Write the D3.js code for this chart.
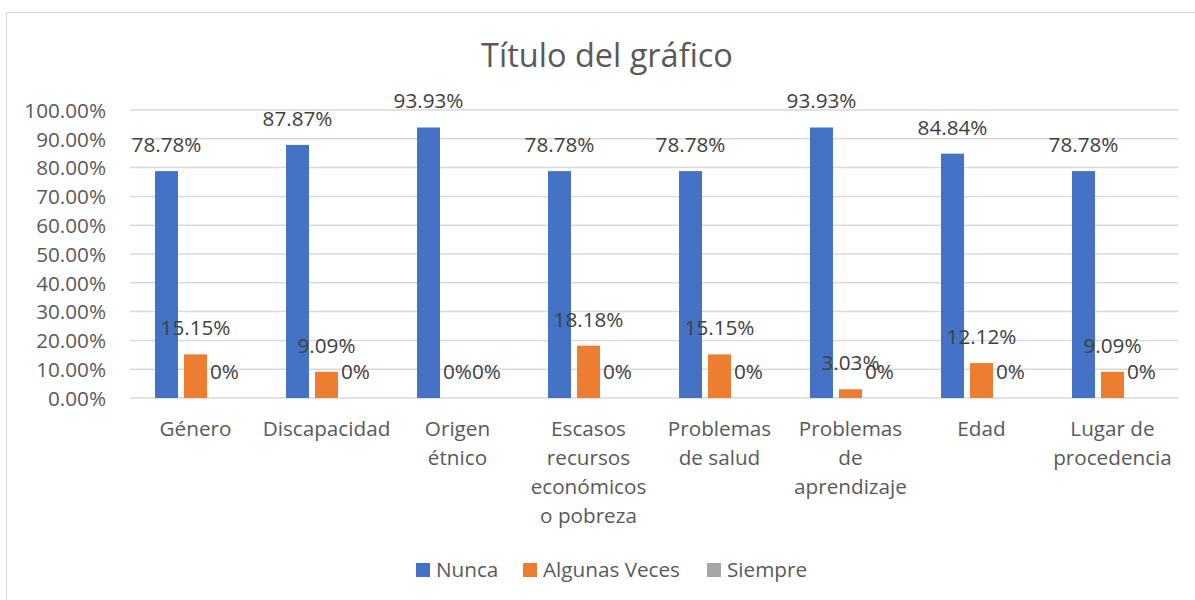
<!DOCTYPE html>
<html>
<head>
  <meta charset="utf-8">
  <title>Título del gráfico</title>
  <script src="https://d3js.org/d3.v7.min.js"></script>
  <style>
    body{margin:0;background:#fff;}
    text{font-family:"Open Sans",sans-serif;}
  </style>
</head>
<body>
  <script>
      var w=1195;
      var h=600;

      var categories=[
        ["Género"],
        ["Discapacidad"],
        ["Origen","étnico"],
        ["Escasos","recursos","económicos","o pobreza"],
        ["Problemas","de salud"],
        ["Problemas","de","aprendizaje"],
        ["Edad"],
        ["Lugar de","procedencia"]
      ];
      var seriesNames=["Nunca","Algunas Veces","Siempre"];
      var seriesColors=["#4472C4","#ED7D31","#A5A5A5"];
      var nunca=[0.7878,0.8787,0.9393,0.7878,0.7878,0.9393,0.8484,0.7878];
      var algunasVeces=[0.1515,0.0909,0,0.1818,0.1515,0.0303,0.1212,0.0909];
      var siempre=[0,0,0,0,0,0,0,0];
      var yTicks=[0,0.1,0.2,0.3,0.4,0.5,0.6,0.7,0.8,0.9,1];

      var series=[nunca,algunasVeces,siempre];
      var catKeys=categories.map(function(c){return c.join(" ");});
      var fs=20.7;

      var svg=d3.select("body").append("svg")
                .attr("width",w).attr("height",h);

      svg.append("rect")
         .attr("x",6.5).attr("y",12.5)
         .attr("width",1200).attr("height",600)
         .attr("fill","#fff").attr("stroke","#D9D9D9");

      svg.append("text")
         .attr("x",607).attr("y",67)
         .attr("text-anchor","middle")
         .attr("font-size",32.5)
         .attr("fill","#595959")
         .text("Título del gráfico");

      var x0=d3.scaleBand().domain(catKeys).range([130,1178]);
      var groupW=81;
      var x1=d3.scaleBand().domain(seriesNames).range([0,groupW]).paddingInner(6/29);
      var y=d3.scaleLinear().domain([0,1]).range([398,110]);

      // gridlines
      svg.append("g").selectAll("line")
         .data(yTicks)
         .enter().append("line")
         .attr("x1",130).attr("x2",1178)
         .attr("y1",function(d){return y(d);})
         .attr("y2",function(d){return y(d);})
         .attr("stroke","#D9D9D9").attr("stroke-width",1.5);

      // y axis labels
      var yAxis=d3.axisLeft(y).tickValues(yTicks).tickFormat(d3.format(".2%")).tickSize(0).tickPadding(0);
      var ya=svg.append("g").attr("transform","translate(106,0)").call(yAxis);
      ya.select(".domain").remove();
      ya.selectAll("text")
        .attr("font-family","Open Sans, sans-serif")
        .attr("font-size",fs)
        .attr("fill","#595959")
        .attr("dy","0.35em");

      // bars
      var groups=svg.append("g").selectAll("g")
         .data(catKeys)
         .enter().append("g")
         .attr("transform",function(d){
           return "translate("+(x0(d)+x0.bandwidth()/2-groupW/2)+",0)";
         });

      var fmt=function(v){return v===0?"0%":(v*100).toFixed(2)+"%";};

      groups.selectAll("rect")
         .data(function(d,i){return series.map(function(s,j){return {s:seriesNames[j],v:s[i],c:seriesColors[j]};});})
         .enter().append("rect")
         .attr("x",function(d){return x1(d.s);})
         .attr("y",function(d){return y(d.v);})
         .attr("width",x1.bandwidth())
         .attr("height",function(d){return y(0)-y(d.v);})
         .attr("fill",function(d){return d.c;});

      groups.selectAll("text.lbl")
         .data(function(d,i){return series.map(function(s,j){return {s:seriesNames[j],v:s[i]};});})
         .enter().append("text")
         .attr("class","lbl")
         .attr("x",function(d){return x1(d.s)+x1.bandwidth()/2;})
         .attr("y",function(d){return y(d.v)-19;})
         .attr("text-anchor","middle")
         .attr("font-size",fs)
         .attr("fill","#404040")
         .text(function(d){return fmt(d.v);});

      // category labels
      svg.append("g").selectAll("text")
         .data(categories)
         .enter().append("text")
         .attr("x",function(d,i){return x0(catKeys[i])+x0.bandwidth()/2;})
         .attr("y",436)
         .attr("text-anchor","middle")
         .attr("font-size",fs)
         .attr("fill","#595959")
         .each(function(d){
           var t=d3.select(this);
           d.forEach(function(line,k){
             t.append("tspan")
              .attr("x",t.attr("x"))
              .attr("dy",k===0?0:29)
              .text(line);
           });
         });

      // legend
      var legX=[416,523,707];
      var leg=svg.append("g").selectAll("g")
         .data(seriesNames)
         .enter().append("g")
         .attr("transform",function(d,i){return "translate("+legX[i]+",563)";});
      leg.append("rect")
         .attr("width",14).attr("height",14)
         .attr("fill",function(d,i){return seriesColors[i];});
      leg.append("text")
         .attr("x",20).attr("y",14)
         .attr("font-size",fs)
         .attr("fill","#595959")
         .text(function(d){return d;});
  </script>
</body>
</html>
